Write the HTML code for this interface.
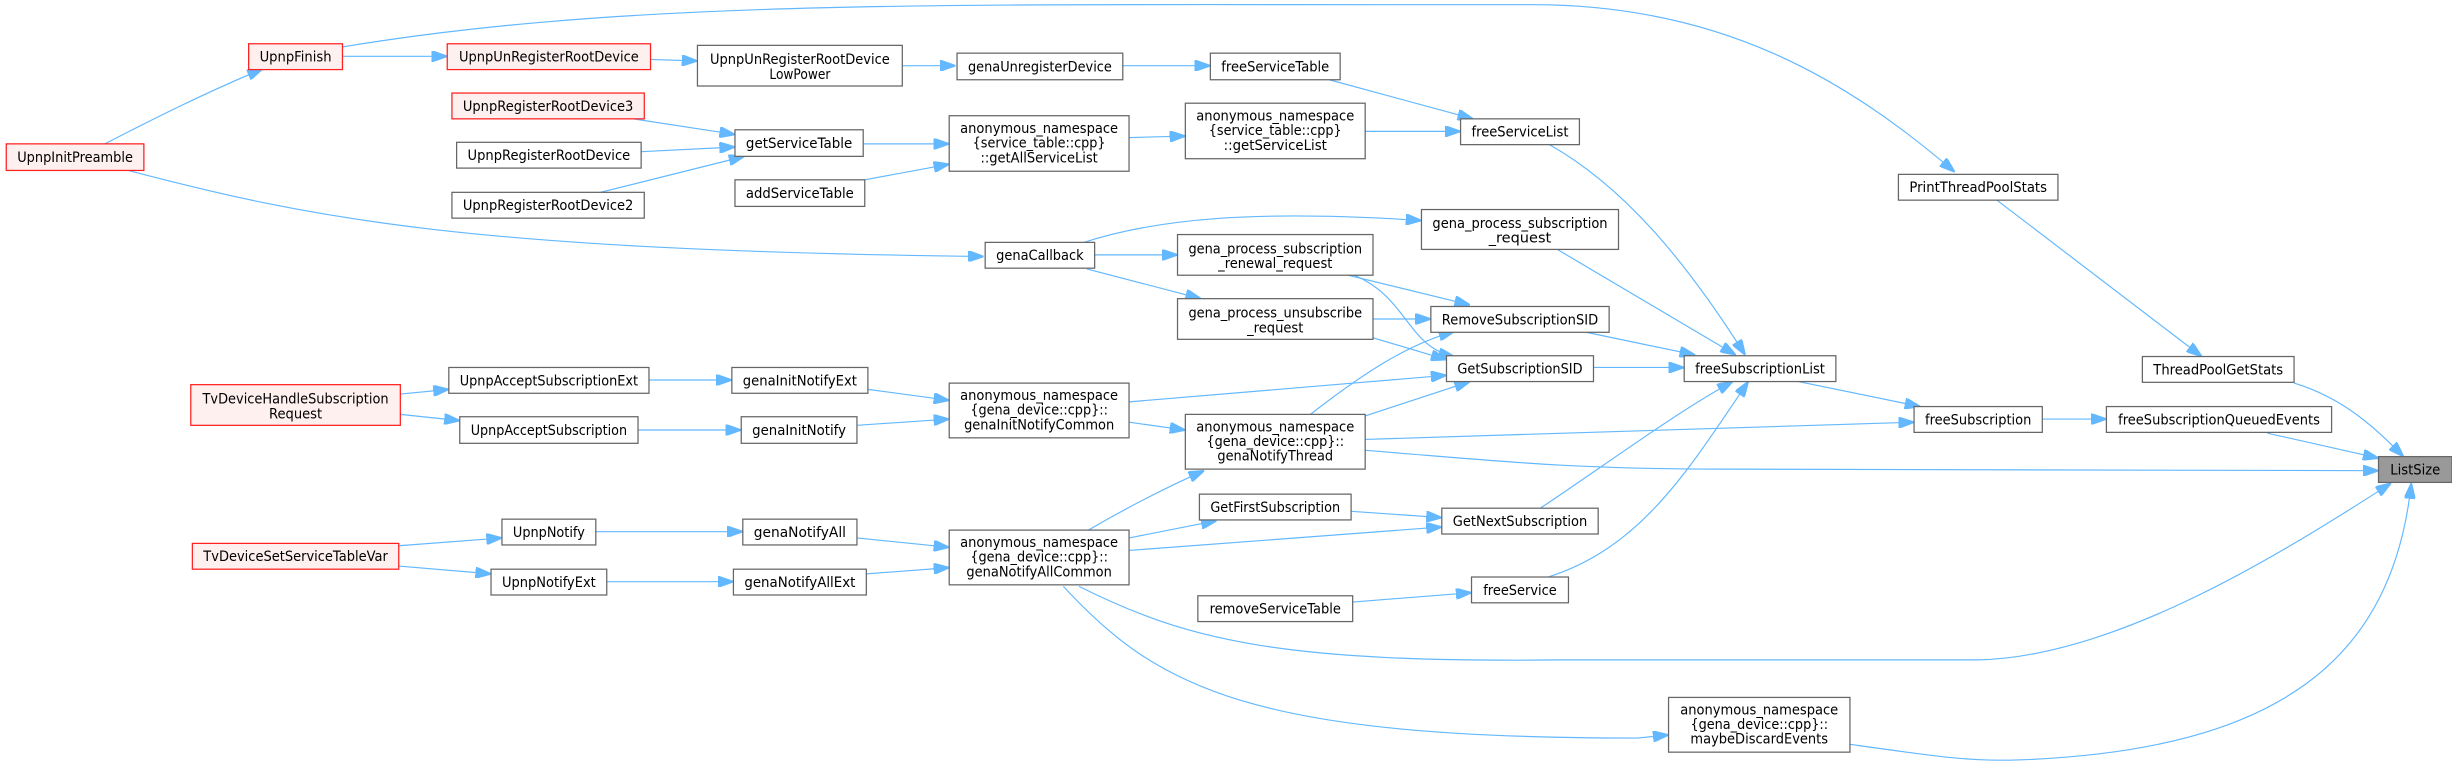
<!DOCTYPE html>
<html><head><meta charset="utf-8"><style>
html,body{margin:0;padding:0;background:#fff;}
svg{display:block;}
text{font-family:"DejaVu Sans","Liberation Sans",sans-serif;font-size:9px;fill:#000;text-anchor:middle;}
.n{fill:#fff;stroke:#666;stroke-width:0.8;}
.r{fill:#fff0f0;stroke:#ff2020;stroke-width:0.8;}
.g{fill:#999;stroke:#666;stroke-width:0.8;}
path.e{fill:none;stroke:#63b8ff;stroke-width:0.75;}
</style></head><body>
<svg width="2452" height="762" viewBox="0 0 1568 487.3" preserveAspectRatio="none" xmlns="http://www.w3.org/2000/svg">
<defs><marker id="a" viewBox="0 0 10 7" refX="10" refY="3.5" markerWidth="10" markerHeight="7" markerUnits="userSpaceOnUse" orient="auto"><path d="M0,0L10,3.5L0,7z" fill="#63b8ff" stroke="#63b8ff"/></marker></defs>
<g marker-end="url(#a)">
<path class="e" d="M67,92 C100,75 130,60 168,44"/>
<path class="e" d="M82,109 C200,140 300,160 629,164"/>
<path class="e" d="M219,36 L286,36"/>
<path class="e" d="M219,30 C400,0 600,3 900,3 L980,3 C1100,3 1180,50 1250,110"/>
<path class="e" d="M416,38 L446,39"/>
<path class="e" d="M577,42 L611,42"/>
<path class="e" d="M718,42 L774,42"/>
<path class="e" d="M850,51 L942,76"/>
<path class="e" d="M405,76 L470,86"/>
<path class="e" d="M410,97 L470,94"/>
<path class="e" d="M384,123 L476,100"/>
<path class="e" d="M552,92 L607,92"/>
<path class="e" d="M553,115 L607,105"/>
<path class="e" d="M722,88 L758,87"/>
<path class="e" d="M873,84 L934,84"/>
<path class="e" d="M693,155 C740,140 800,134 909,141"/>
<path class="e" d="M700,163 L753,163"/>
<path class="e" d="M695,172 L768,191"/>
<path class="e" d="M862,176 L940,195"/>
<path class="e" d="M866,176 C900,190 900,222 930,228"/>
<path class="e" d="M878,204 L915,204"/>
<path class="e" d="M878,216 L925,230"/>
<path class="e" d="M555,249 L607,256"/>
<path class="e" d="M548,272 L607,268"/>
<path class="e" d="M415,243 L468,243"/>
<path class="e" d="M408,275 L474,275"/>
<path class="e" d="M256,252 L287,249"/>
<path class="e" d="M256,265 L294,269"/>
<path class="e" d="M722,257 L925,240"/>
<path class="e" d="M722,270 L758,275"/>
<path class="e" d="M838,265 C870,240 900,220 930,212"/>
<path class="e" d="M873,266 L940,244"/>
<path class="e" d="M873,281 L1224,270"/>
<path class="e" d="M873,288 C950,294 1000,300 1100,300 L1521,301"/>
<path class="e" d="M696,339 C720,325 745,312 770,301"/>
<path class="e" d="M722,344 L778,333"/>
<path class="e" d="M722,352 L922,337"/>
<path class="e" d="M864,327 L922,331"/>
<path class="e" d="M381,340 L475,340"/>
<path class="e" d="M388,372 L469,372"/>
<path class="e" d="M255,349 L321,344"/>
<path class="e" d="M255,362 L314,367"/>
<path class="e" d="M548,344 L607,350"/>
<path class="e" d="M554,367 L607,363"/>
<path class="e" d="M865,385 L941,379"/>
<path class="e" d="M690,375 C760,410 820,424 1000,422 L1265,422 C1350,420 1450,360 1529,309"/>
<path class="e" d="M680,375 C740,440 800,472 1047,472 L1067,470"/>
<path class="e" d="M1183,476 C1240,484 1260,487 1290,486 C1460,480 1530,420 1542,309"/>
<path class="e" d="M990,92 C1040,120 1080,170 1116,227"/>
<path class="e" d="M995,159 L1110,227"/>
<path class="e" d="M1012,212 L1084,227"/>
<path class="e" d="M1019,235 L1077,235"/>
<path class="e" d="M985,325 C1030,295 1070,265 1108,244"/>
<path class="e" d="M990,369 C1050,350 1080,300 1118,244"/>
<path class="e" d="M1150,244 L1228,260"/>
<path class="e" d="M1306,268 L1347,268"/>
<path class="e" d="M1450,277 L1521,293"/>
<path class="e" d="M1467,245 C1500,255 1520,275 1537,292"/>
<path class="e" d="M1277,128 L1408,228"/>
</g>
<rect class="r" x="4" y="92" width="88" height="17"/><text x="48" y="103.7" textLength="74" lengthAdjust="spacingAndGlyphs">UpnpInitPreamble</text>
<rect class="r" x="159" y="28" width="60" height="16.5"/><text x="189" y="39.4" textLength="46" lengthAdjust="spacingAndGlyphs">UpnpFinish</text>
<rect class="r" x="286" y="28" width="130" height="16.5"/><text x="351" y="39.4" textLength="115" lengthAdjust="spacingAndGlyphs">UpnpUnRegisterRootDevice</text>
<rect class="n" x="446" y="29" width="131" height="26"/><text x="511.5" y="41" textLength="115" lengthAdjust="spacingAndGlyphs">UpnpUnRegisterRootDevice</text><text x="511.5" y="50.5" textLength="39" lengthAdjust="spacingAndGlyphs">LowPower</text>
<rect class="r" x="289" y="59.5" width="123" height="16.5"/><text x="350.5" y="70.9" textLength="109" lengthAdjust="spacingAndGlyphs">UpnpRegisterRootDevice3</text>
<rect class="n" x="292" y="91" width="118" height="16.5"/><text x="351" y="102.4" textLength="104" lengthAdjust="spacingAndGlyphs">UpnpRegisterRootDevice</text>
<rect class="n" x="289" y="123" width="123" height="16.5"/><text x="350.5" y="134.4" textLength="109" lengthAdjust="spacingAndGlyphs">UpnpRegisterRootDevice2</text>
<rect class="n" x="470" y="83" width="82" height="17"/><text x="511" y="94.7" textLength="68" lengthAdjust="spacingAndGlyphs">getServiceTable</text>
<rect class="n" x="470" y="115" width="83" height="17"/><text x="511.5" y="126.7" textLength="69" lengthAdjust="spacingAndGlyphs">addServiceTable</text>
<rect class="r" x="122" y="246" width="134" height="26"/><text x="189" y="258" textLength="119" lengthAdjust="spacingAndGlyphs">TvDeviceHandleSubscription</text><text x="189" y="267.5" textLength="34" lengthAdjust="spacingAndGlyphs">Request</text>
<rect class="n" x="287" y="235" width="128" height="16.5"/><text x="351" y="246.4" textLength="114" lengthAdjust="spacingAndGlyphs">UpnpAcceptSubscriptionExt</text>
<rect class="n" x="294" y="266.5" width="114" height="17"/><text x="351" y="278.2" textLength="100" lengthAdjust="spacingAndGlyphs">UpnpAcceptSubscription</text>
<rect class="n" x="468" y="235" width="87" height="16.5"/><text x="511.5" y="246.4" textLength="73" lengthAdjust="spacingAndGlyphs">genaInitNotifyExt</text>
<rect class="n" x="474" y="266.5" width="74" height="17"/><text x="511" y="278.2" textLength="60" lengthAdjust="spacingAndGlyphs">genaInitNotify</text>
<rect class="r" x="123" y="347.5" width="132" height="16.5"/><text x="189" y="358.9" textLength="118" lengthAdjust="spacingAndGlyphs">TvDeviceSetServiceTableVar</text>
<rect class="n" x="321" y="332" width="60" height="16.5"/><text x="351" y="343.4" textLength="46" lengthAdjust="spacingAndGlyphs">UpnpNotify</text>
<rect class="n" x="314" y="364" width="74" height="16.5"/><text x="351" y="375.4" textLength="60" lengthAdjust="spacingAndGlyphs">UpnpNotifyExt</text>
<rect class="n" x="475" y="332" width="73" height="16.5"/><text x="511.5" y="343.4" textLength="59" lengthAdjust="spacingAndGlyphs">genaNotifyAll</text>
<rect class="n" x="469" y="364" width="85" height="16.5"/><text x="511.5" y="375.4" textLength="71" lengthAdjust="spacingAndGlyphs">genaNotifyAllExt</text>
<rect class="n" x="612" y="34" width="106" height="17"/><text x="665" y="45.7" textLength="92" lengthAdjust="spacingAndGlyphs">genaUnregisterDevice</text>
<rect class="n" x="774" y="34" width="83" height="17"/><text x="815.5" y="45.7" textLength="69" lengthAdjust="spacingAndGlyphs">freeServiceTable</text>
<rect class="n" x="607" y="74" width="115" height="35.5"/><text x="664.5" y="85" textLength="101" lengthAdjust="spacingAndGlyphs">anonymous_namespace</text><text x="664.5" y="94.4" textLength="85" lengthAdjust="spacingAndGlyphs">{service_table::cpp}</text><text x="664.5" y="103.8" textLength="75" lengthAdjust="spacingAndGlyphs">::getAllServiceList</text>
<rect class="n" x="758" y="66" width="115" height="35.5"/><text x="815.5" y="77" textLength="101" lengthAdjust="spacingAndGlyphs">anonymous_namespace</text><text x="815.5" y="86.4" textLength="85" lengthAdjust="spacingAndGlyphs">{service_table::cpp}</text><text x="815.5" y="95.8" textLength="66" lengthAdjust="spacingAndGlyphs">::getServiceList</text>
<rect class="n" x="934" y="76" width="76" height="16.5"/><text x="972" y="87.4" textLength="62" lengthAdjust="spacingAndGlyphs">freeServiceList</text>
<rect class="n" x="630" y="155" width="70" height="16.5"/><text x="665" y="166.4" textLength="56" lengthAdjust="spacingAndGlyphs">genaCallback</text>
<rect class="n" x="909" y="134" width="126" height="25.5"/><text x="972" y="145.7" textLength="112" lengthAdjust="spacingAndGlyphs">gena_process_subscription</text><text x="972" y="155.1" textLength="40" lengthAdjust="spacingAndGlyphs">_request</text>
<rect class="n" x="753" y="150" width="125" height="26"/><text x="815.5" y="162" textLength="111" lengthAdjust="spacingAndGlyphs">gena_process_subscription</text><text x="815.5" y="171.5" textLength="73" lengthAdjust="spacingAndGlyphs">_renewal_request</text>
<rect class="n" x="753" y="191" width="125" height="26"/><text x="815.5" y="203" textLength="111" lengthAdjust="spacingAndGlyphs">gena_process_unsubscribe</text><text x="815.5" y="212.5" textLength="36" lengthAdjust="spacingAndGlyphs">_request</text>
<rect class="n" x="915" y="196" width="114" height="16.5"/><text x="972" y="207.4" textLength="100" lengthAdjust="spacingAndGlyphs">RemoveSubscriptionSID</text>
<rect class="n" x="925" y="227.5" width="94" height="16.5"/><text x="972" y="238.9" textLength="80" lengthAdjust="spacingAndGlyphs">GetSubscriptionSID</text>
<rect class="n" x="607" y="245" width="115" height="35"/><text x="664.5" y="255.8" textLength="101" lengthAdjust="spacingAndGlyphs">anonymous_namespace</text><text x="664.5" y="265.2" textLength="88" lengthAdjust="spacingAndGlyphs">{gena_device::cpp}::</text><text x="664.5" y="274.6" textLength="96" lengthAdjust="spacingAndGlyphs">genaInitNotifyCommon</text>
<rect class="n" x="758" y="265" width="115" height="35"/><text x="815.5" y="275.8" textLength="101" lengthAdjust="spacingAndGlyphs">anonymous_namespace</text><text x="815.5" y="285.2" textLength="88" lengthAdjust="spacingAndGlyphs">{gena_device::cpp}::</text><text x="815.5" y="294.6" textLength="74" lengthAdjust="spacingAndGlyphs">genaNotifyThread</text>
<rect class="n" x="767" y="316" width="97" height="16.5"/><text x="815.5" y="327.4" textLength="83" lengthAdjust="spacingAndGlyphs">GetFirstSubscription</text>
<rect class="n" x="922" y="325" width="100" height="16.5"/><text x="972" y="336.4" textLength="86" lengthAdjust="spacingAndGlyphs">GetNextSubscription</text>
<rect class="n" x="607" y="339" width="115" height="35"/><text x="664.5" y="349.8" textLength="101" lengthAdjust="spacingAndGlyphs">anonymous_namespace</text><text x="664.5" y="359.2" textLength="88" lengthAdjust="spacingAndGlyphs">{gena_device::cpp}::</text><text x="664.5" y="368.6" textLength="93" lengthAdjust="spacingAndGlyphs">genaNotifyAllCommon</text>
<rect class="n" x="941" y="369" width="62" height="16.5"/><text x="972" y="380.4" textLength="47" lengthAdjust="spacingAndGlyphs">freeService</text>
<rect class="n" x="766" y="381" width="99" height="16.5"/><text x="815.5" y="392.4" textLength="84" lengthAdjust="spacingAndGlyphs">removeServiceTable</text>
<rect class="n" x="1214" y="111.5" width="102" height="16.5"/><text x="1265" y="122.9" textLength="88" lengthAdjust="spacingAndGlyphs">PrintThreadPoolStats</text>
<rect class="n" x="1077" y="227.5" width="97" height="16.5"/><text x="1125.5" y="238.9" textLength="83" lengthAdjust="spacingAndGlyphs">freeSubscriptionList</text>
<rect class="n" x="1370" y="228" width="97" height="16.5"/><text x="1418.5" y="239.4" textLength="83" lengthAdjust="spacingAndGlyphs">ThreadPoolGetStats</text>
<rect class="n" x="1224" y="260" width="82" height="16.5"/><text x="1265" y="271.4" textLength="68" lengthAdjust="spacingAndGlyphs">freeSubscription</text>
<rect class="n" x="1347" y="260" width="144" height="16.5"/><text x="1419" y="271.4" textLength="129" lengthAdjust="spacingAndGlyphs">freeSubscriptionQueuedEvents</text>
<rect class="g" x="1521" y="292" width="47" height="16.5"/><text x="1544.5" y="303.4" textLength="32" lengthAdjust="spacingAndGlyphs">ListSize</text>
<rect class="n" x="1067" y="446" width="116" height="35"/><text x="1125" y="456.8" textLength="101" lengthAdjust="spacingAndGlyphs">anonymous_namespace</text><text x="1125" y="466.2" textLength="88" lengthAdjust="spacingAndGlyphs">{gena_device::cpp}::</text><text x="1125" y="475.6" textLength="88" lengthAdjust="spacingAndGlyphs">maybeDiscardEvents</text>
</svg>
</body></html>
